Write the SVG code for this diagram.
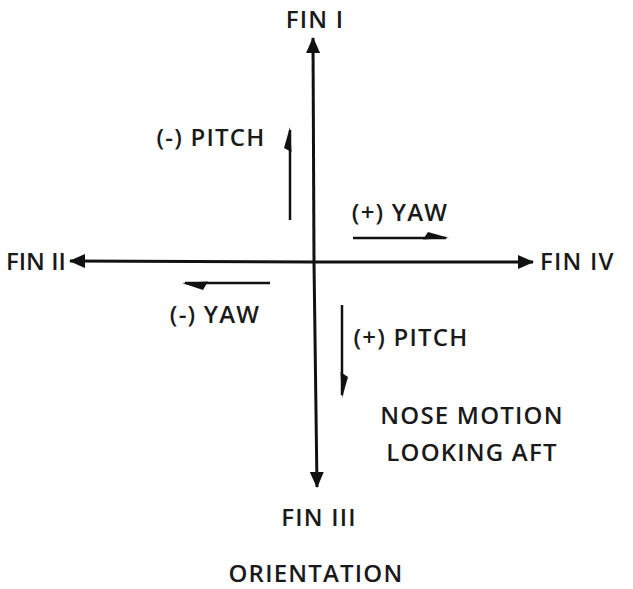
<svg xmlns="http://www.w3.org/2000/svg" width="633" height="589" viewBox="0 0 633 589">
<style>
text{font-family:"Open Sans","Liberation Sans",sans-serif;font-size:24px;font-weight:600;letter-spacing:1.2px;fill:#1a1a1a;text-anchor:middle}
.ax{stroke:#111;stroke-width:3;fill:none}
.mv{stroke:#111;stroke-width:2.5;fill:none}
.hd{fill:#111;stroke:none}
</style>
<defs>
<marker id="big" viewBox="0 0 16 14" refX="15" refY="7" markerWidth="16" markerHeight="14" markerUnits="userSpaceOnUse" orient="auto">
<path d="M0,0 L16,7 L0,14 z" fill="#111"/>
</marker>
</defs>
<rect width="633" height="589" fill="#fff"/>
<g id="connectors">
<line class="ax" x1="314" y1="262" x2="313" y2="38" marker-end="url(#big)"/>
<line class="ax" x1="314" y1="262" x2="317" y2="487" marker-end="url(#big)"/>
<line class="ax" x1="314" y1="262" x2="70" y2="261" marker-end="url(#big)"/>
<line class="ax" x1="314" y1="262" x2="533" y2="262" marker-end="url(#big)"/>
</g>
<g id="fin-i"><text x="315" y="28">FIN I</text></g>
<g id="fin-ii"><text x="6" y="270" style="text-anchor:start;letter-spacing:0">FIN II</text></g>
<g id="fin-iv"><text x="540" y="270" style="text-anchor:start">FIN IV</text></g>
<g id="fin-iii"><text x="319" y="526">FIN III</text></g>
<g id="minus-pitch">
<text x="211" y="146">(-) PITCH</text>
<line class="mv" x1="290" y1="220" x2="290" y2="130"/>
<path class="hd" d="M290,127 L291.5,152 L284,148 z"/>
</g>
<g id="plus-yaw">
<text x="400" y="221">(+) YAW</text>
<line class="mv" x1="353" y1="238" x2="446" y2="238"/>
<path class="hd" d="M449,238 L423,239.5 L428,232 z"/>
</g>
<g id="minus-yaw">
<text x="215" y="323">(-) YAW</text>
<line class="mv" x1="270" y1="283" x2="185" y2="283"/>
<path class="hd" d="M182,283 L208,281.5 L203,290 z"/>
</g>
<g id="plus-pitch">
<text x="411" y="346">(+) PITCH</text>
<line class="mv" x1="342" y1="305" x2="342" y2="395"/>
<path class="hd" d="M342,398 L340.5,372 L348,377 z"/>
</g>
<g id="nose-motion">
<text x="472" y="424">NOSE MOTION</text>
<text x="472" y="461">LOOKING AFT</text>
</g>
<g id="orientation"><text x="316" y="582">ORIENTATION</text></g>
</svg>
